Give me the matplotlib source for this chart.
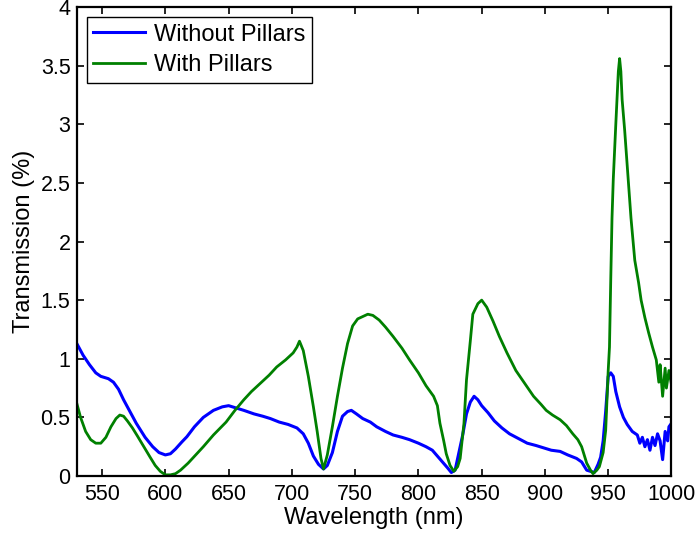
import matplotlib
matplotlib.use("Agg")
import matplotlib.pyplot as plt

plt.rcParams['font.family'] = ['Liberation Sans', 'DejaVu Sans']

# Transmission spectra (wavelength in nm, transmission in %)
wl_without = [530, 535, 540, 545, 549, 555, 559, 563, 567, 572, 577, 584, 590, 595, 600, 604,
              608, 613, 617, 623, 630, 638, 645, 650, 656, 662, 670, 677, 683, 690, 697, 704,
              709, 713, 717, 721, 725, 728, 732, 736, 740, 744, 747, 751, 756, 762, 767, 774,
              780, 787, 793, 800, 806, 811, 815, 819, 823, 826, 829, 832, 835, 838, 841, 844,
              847, 850, 855, 860, 866, 872, 879, 886, 893, 899, 905, 912, 918, 925, 929, 933,
              936, 939, 942, 944, 946, 948, 950, 952, 954, 956, 959, 962, 965, 969, 973, 975,
              977, 979, 981, 983, 985, 987, 989, 991, 993, 995, 997, 998, 1000]
tr_without = [1.13, 1.03, 0.95, 0.88, 0.85, 0.83, 0.80, 0.74, 0.65, 0.55, 0.45, 0.33, 0.25, 0.20,
              0.18, 0.19, 0.23, 0.29, 0.335, 0.42, 0.50, 0.56, 0.59, 0.60, 0.58, 0.56, 0.53, 0.51,
              0.49, 0.46, 0.44, 0.41, 0.36, 0.28, 0.17, 0.10, 0.06, 0.09, 0.20, 0.38, 0.51, 0.55,
              0.56, 0.53, 0.49, 0.46, 0.42, 0.38, 0.35, 0.33, 0.31, 0.28, 0.25, 0.22, 0.17, 0.12,
              0.07, 0.03, 0.05, 0.20, 0.35, 0.53, 0.63, 0.68, 0.65, 0.60, 0.54, 0.47, 0.41, 0.36,
              0.32, 0.28, 0.26, 0.24, 0.22, 0.21, 0.18, 0.15, 0.12, 0.05, 0.04, 0.03, 0.10, 0.16,
              0.30, 0.55, 0.85, 0.88, 0.85, 0.72, 0.59, 0.50, 0.44, 0.38, 0.35, 0.28, 0.33, 0.25,
              0.31, 0.22, 0.33, 0.26, 0.36, 0.30, 0.14, 0.38, 0.30, 0.42, 0.45]

wl_with = [530, 533, 537, 541, 545, 549, 553, 557, 561, 564, 567, 570, 574, 578, 583, 588, 592,
           596, 600, 604, 608, 612, 618, 624, 630, 638, 648, 655, 662, 668, 675, 682, 688, 695,
           701, 704, 706, 709, 713, 717, 720, 723, 725, 728, 732, 736, 740, 744, 748, 752, 756,
           760, 764, 769, 774, 780, 787, 793, 800, 806, 812, 815, 817, 820, 822, 825, 828, 831,
           833, 836, 838, 841, 843, 847, 850, 854, 859, 864, 870, 877, 884, 891, 897, 901, 906,
           912, 917, 922, 926, 929, 931, 933, 936, 938, 941, 943, 946, 948, 950, 951, 952, 953,
           954, 956, 958, 959, 960, 961, 963, 966, 968, 971, 974, 976, 979, 982, 985, 988, 990,
           991, 993, 995, 996, 998, 1000]
tr_with = [0.62, 0.50, 0.38, 0.31, 0.28, 0.28, 0.33, 0.42, 0.49, 0.52, 0.51, 0.47, 0.41, 0.34,
           0.25, 0.16, 0.09, 0.04, 0.01, 0.01, 0.02, 0.05, 0.11, 0.18, 0.25, 0.35, 0.46, 0.56,
           0.65, 0.72, 0.79, 0.86, 0.93, 0.99, 1.05, 1.10, 1.15, 1.07, 0.85, 0.59, 0.38, 0.15,
           0.06, 0.18, 0.42, 0.68, 0.92, 1.13, 1.28, 1.34, 1.36, 1.38, 1.37, 1.33, 1.27, 1.19,
           1.09, 0.99, 0.88, 0.77, 0.68, 0.60, 0.45, 0.30, 0.19, 0.09, 0.04, 0.08, 0.15, 0.45,
           0.82, 1.15, 1.38, 1.47, 1.50, 1.44, 1.32, 1.19, 1.05, 0.90, 0.79, 0.68, 0.61, 0.56,
           0.52, 0.48, 0.43, 0.36, 0.31, 0.25, 0.18, 0.11, 0.05, 0.02, 0.05, 0.08, 0.20, 0.39,
           0.90, 1.10, 1.67, 2.20, 2.53, 3.00, 3.45, 3.56, 3.45, 3.21, 2.95, 2.50, 2.20, 1.84,
           1.65, 1.50, 1.35, 1.22, 1.10, 0.99, 0.80, 0.95, 0.68, 0.92, 0.75, 0.90, 0.78]

series_labels = ["Without Pillars", "With Pillars"]
x_ticks = [550, 600, 650, 700, 750, 800, 850, 900, 950, 1000]
y_ticks = [0, 0.5, 1, 1.5, 2, 2.5, 3, 3.5, 4]

fig = plt.figure(figsize=(6.98, 5.38), dpi=100)
ax = fig.add_axes([0.110, 0.1152, 0.852, 0.8718])

ax.plot(wl_without, tr_without, color=(0, 0, 1), lw=2.2, label=series_labels[0])
ax.plot(wl_with, tr_with, color=(0, 0.5, 0), lw=2.0, label=series_labels[1])

ax.set_xlim(530, 1000)
ax.set_ylim(0, 4)
ax.set_xticks(x_ticks)
ax.set_yticks(y_ticks)
ax.set_yticklabels([f"{v:g}" for v in y_ticks])
ax.tick_params(direction='in', top=True, right=True, length=5, width=1.2,
               labelsize=15.5)
ax.tick_params(axis='x', pad=6)
ax.tick_params(axis='y', pad=4.5)
for s in ax.spines.values():
    s.set_linewidth(1.6)

ax.set_xlabel("Wavelength (nm)", fontsize=17, labelpad=1)
ax.set_ylabel("Transmission (%)", fontsize=17, labelpad=4)

leg = ax.legend(loc='upper left', fontsize=17, fancybox=False, framealpha=1,
                edgecolor='black', borderaxespad=0.42, handlelength=2.2,
                handletextpad=0.35, borderpad=0.28, labelspacing=0.38)
leg.get_frame().set_linewidth(1.0)

fig.savefig("out.png", dpi=100)
